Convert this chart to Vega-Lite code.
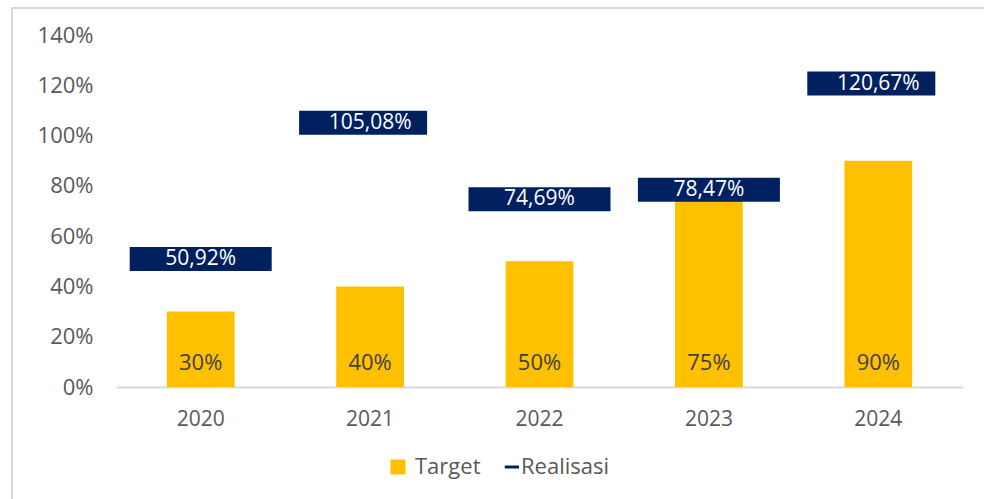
{
  "$schema": "https://vega.github.io/schema/vega-lite/v6.json",
  "width": 980,
  "height": 500,
  "autosize": {"type": "none"},
  "padding": {"left": 12, "top": 8, "right": -8, "bottom": -9},
  "background": "white",
  "config": {
    "locale": {"number": {"decimal": ",", "thousands": ".", "grouping": [3], "currency": ["", ""]}},
    "view": {"stroke": "#D9D9D9", "strokeWidth": 2},
    "font": "Open Sans"
  },
  "data": {
    "values": [
      {"year": "2020", "target": 0.30, "realisasi": 0.5092},
      {"year": "2021", "target": 0.40, "realisasi": 1.0508},
      {"year": "2022", "target": 0.50, "realisasi": 0.7469},
      {"year": "2023", "target": 0.75, "realisasi": 0.7847},
      {"year": "2024", "target": 0.90, "realisasi": 1.2067}
    ]
  },
  "encoding": {
    "x": {
      "field": "year",
      "type": "nominal",
      "title": null,
      "scale": {"range": [104, 951], "paddingInner": 0.6, "paddingOuter": 0.3},
      "axis": {
        "offset": -121,
        "labelAngle": 0,
        "ticks": false,
        "grid": false,
        "domainColor": "#D9D9D9",
        "domainWidth": 2,
        "labelFont": "Open Sans",
        "labelFontSize": 21,
        "labelColor": "#595959",
        "labelPadding": 21
      }
    }
  },
  "layer": [
    {
      "mark": {"type": "bar", "color": "#FFC000"},
      "encoding": {
        "y": {
          "field": "target",
          "type": "quantitative",
          "title": null,
          "scale": {"domain": [0, 1.4], "range": [379, 27], "nice": false, "zero": true},
          "axis": {
            "offset": -104,
            "values": [0, 0.2, 0.4, 0.6, 0.8, 1.0, 1.2, 1.4],
            "format": ".0%",
            "ticks": false,
            "domain": false,
            "grid": false,
            "labelFont": "Open Sans",
            "labelFontSize": 22,
            "labelColor": "#595959",
            "labelPadding": 23
          }
        },
        "color": {
          "datum": "Target",
          "type": "nominal",
          "scale": {"domain": ["Target", "Realisasi"], "range": ["#FFC000", "#002060"]},
          "legend": {
            "title": null,
            "orient": "none",
            "direction": "horizontal",
            "legendX": 375,
            "legendY": 448,
            "symbolSize": 225,
            "labelFont": "Open Sans",
            "labelFontSize": 22,
            "labelColor": "#595959",
            "labelOffset": 6,
            "columnPadding": 12,
            "encode": {
              "symbols": {
                "update": {
                  "shape": {"signal": "datum.value === 'Target' ? 'square' : 'M0.1,-0.2L2.0,-0.2L2.0,0.2L0.1,0.2Z'"},
                  "fill": {"signal": "datum.value === 'Target' ? '#FFC000' : '#002060'"},
                  "strokeWidth": {"value": 0},
                  "opacity": {"value": 1}
                }
              }
            }
          }
        }
      }
    },
    {
      "mark": {"type": "text", "baseline": "alphabetic", "dy": -17, "font": "Open Sans", "fontSize": 22, "color": "#404040"},
      "encoding": {
        "y": {"datum": 0, "type": "quantitative"},
        "text": {"field": "target", "type": "quantitative", "format": ".0%"}
      }
    },
    {
      "mark": {"type": "point", "filled": true, "opacity": 1, "strokeWidth": 0, "size": 20164},
      "encoding": {
        "y": {"field": "realisasi", "type": "quantitative"},
        "color": {"datum": "Realisasi", "type": "nominal"},
        "shape": {
          "condition": {"test": "datum.year === '2021' || datum.year === '2024'", "value": "M-1,-0.169L0.803,-0.169L0.803,0.169L-1,0.169Z"},
          "value": "M-1,-0.169L1,-0.169L1,0.169L-1,0.169Z"
        }
      }
    },
    {
      "mark": {"type": "text", "baseline": "middle", "font": "Open Sans", "fontSize": 21, "color": "white"},
      "encoding": {
        "y": {"field": "realisasi", "type": "quantitative"},
        "text": {"field": "realisasi", "type": "quantitative", "format": ".2%"}
      }
    }
  ]
}
